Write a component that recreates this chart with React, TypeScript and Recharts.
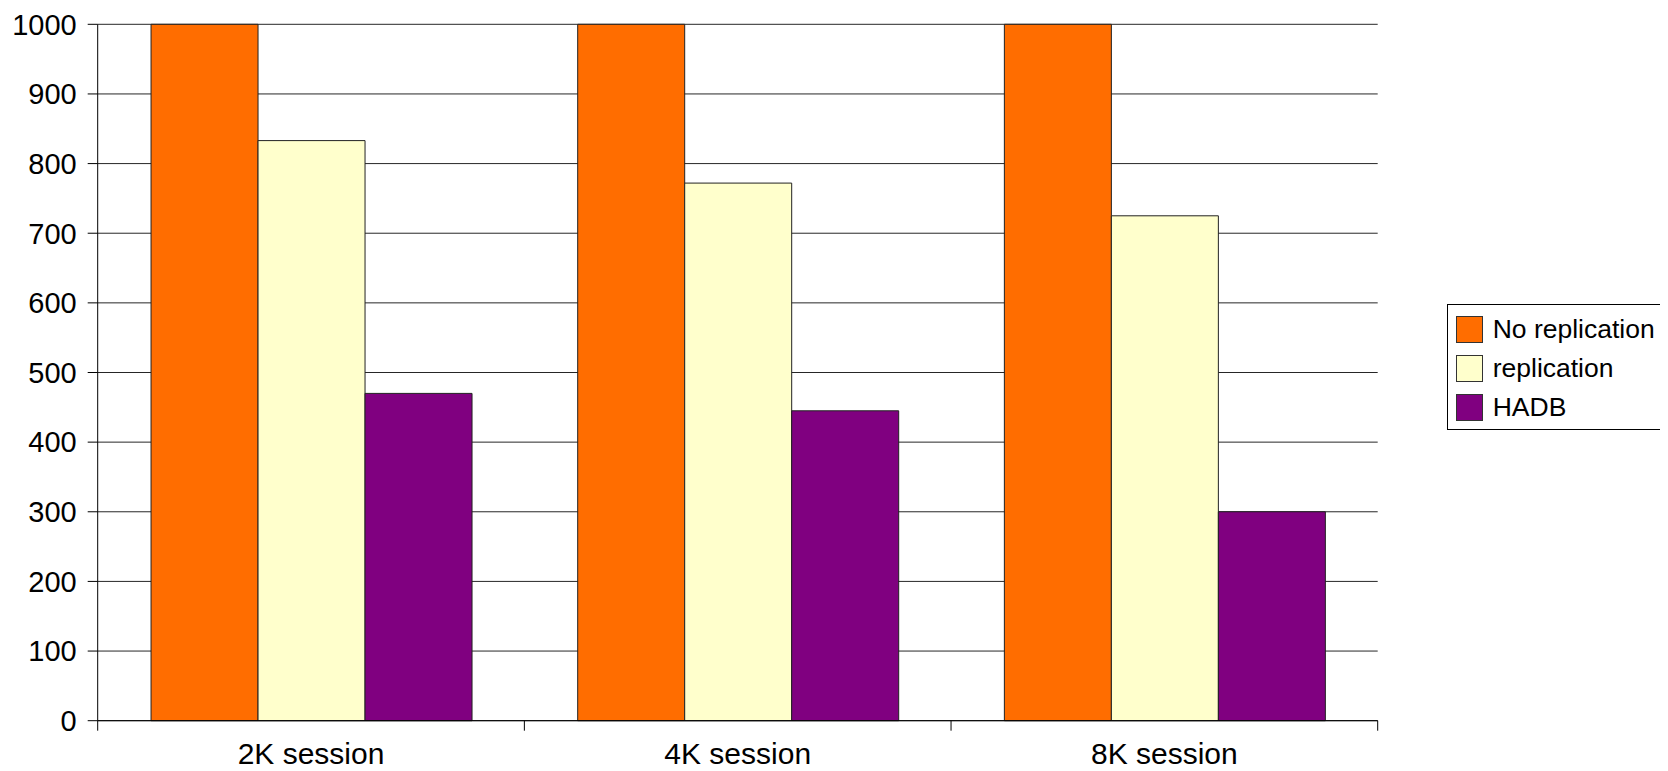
import React from 'react';
import { BarChart, Bar, XAxis, YAxis, CartesianGrid, Legend } from 'recharts';

// values
const categories = ['2K session', '4K session', '8K session'];
const noReplication = [1000, 1000, 1000];
const replication = [833, 772, 725];
const hadb = [470, 445, 300];
const yTicks = [0, 100, 200, 300, 400, 500, 600, 700, 800, 900, 1000];

const series = [
  { key: 'noReplication', name: 'No replication', color: '#FF6D00' },
  { key: 'replication', name: 'replication', color: '#FFFFCC' },
  { key: 'hadb', name: 'HADB', color: '#800080' },
];

const data = categories.map((c, i) => ({
  category: c,
  noReplication: noReplication[i],
  replication: replication[i],
  hadb: hadb[i],
}));

const FONT = '"Liberation Sans", Arial, sans-serif';
const LEGEND_W = 217;
const LEGEND_H = 126;

// x ticks sit on category boundaries, labels in the middle
const CategoryTick = (props: any) => {
  const { x, y, payload, index } = props;
  const half = payload && payload.offset ? payload.offset : 213.33;
  const last = index === categories.length - 1;
  return (
    <g>
      <line x1={x - half} x2={x - half} y1={y} y2={y + 10} stroke="#000" />
      {last && <line x1={x + half} x2={x + half} y1={y} y2={y + 10} stroke="#000" />}
      <text x={x} y={y + 43.5} textAnchor="middle" fontSize={30} fontFamily={FONT} fill="#000">
        {payload.value}
      </text>
    </g>
  );
};

const renderLegend = () => (
  <div
    style={{
      boxSizing: 'border-box',
      width: LEGEND_W,
      height: LEGEND_H,
      border: '1px solid #000',
      background: '#fff',
      position: 'relative',
      fontFamily: FONT,
      fontSize: 26.5,
      color: '#000',
    }}
  >
    {series.map((s, i) => (
      <div
        key={s.key}
        style={{
          position: 'absolute',
          left: 8,
          top: 11 + i * 39,
          height: 27,
          display: 'flex',
          alignItems: 'center',
          whiteSpace: 'nowrap',
        }}
      >
        <span
          style={{
            boxSizing: 'border-box',
            width: 27,
            height: 27,
            background: s.color,
            border: '1px solid #333',
            display: 'inline-block',
            marginRight: 10,
          }}
        />
        <span style={{ lineHeight: '27px' }}>{s.name}</span>
      </div>
    ))}
  </div>
);

export default function App() {
  return (
    <BarChart
      width={1652}
      height={763}
      data={data}
      margin={{ top: 16.3, right: 282.3 - LEGEND_W, bottom: 0, left: 0 }}
      barCategoryGap="12.5%"
      barGap={0}
      style={{ fontFamily: FONT }}
    >
      <CartesianGrid horizontal vertical={false} stroke="#000" strokeOpacity={0.85} />
      <XAxis
        dataKey="category"
        interval={0}
        height={50.3}
        tickLine={false}
        tickSize={0}
        tickMargin={0}
        axisLine={{ stroke: '#000' }}
        tick={<CategoryTick />}
      />
      <YAxis
        domain={[0, 1000]}
        ticks={yTicks}
        interval={0}
        width={89.7}
        tickSize={10}
        tickMargin={11}
        axisLine={{ stroke: '#000' }}
        tickLine={{ stroke: '#000' }}
        tick={{ fill: '#000', fontSize: 29, fontFamily: FONT }}
      />
      <Legend
        layout="vertical"
        align="right"
        verticalAlign="middle"
        content={renderLegend}
        wrapperStyle={{ left: 1438.7, top: 296.3, width: LEGEND_W, height: LEGEND_H }}
      />
      {series.map((s) => (
        <Bar
          key={s.key}
          dataKey={s.key}
          name={s.name}
          fill={s.color}
          stroke="#222"
          strokeWidth={1}
          isAnimationActive={false}
        />
      ))}
    </BarChart>
  );
}
